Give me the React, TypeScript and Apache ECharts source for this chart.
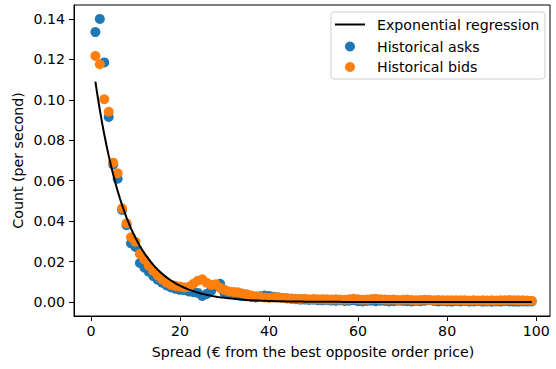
import React, { useEffect, useRef } from "react";
import * as echarts from "echarts";

// Spread values (€ from the best opposite order price)
const spreads: number[] = Array.from({ length: 99 }, (_, i) => i + 1);

// Historical asks (count per second)
const asks: number[] = [
  0.1335, 0.1400, 0.1185, 0.0915, 0.0680, 0.0610, 0.0455, 0.0380, 0.0290, 0.0272,
  0.0193, 0.0170, 0.0150, 0.0128, 0.0110, 0.0095, 0.0082, 0.0072, 0.0065, 0.0060,
  0.0058, 0.0052, 0.0048, 0.0045, 0.0030, 0.0040, 0.0055, 0.0080, 0.0090, 0.0045,
  0.0040, 0.0045, 0.0035, 0.0030, 0.0028, 0.0025, 0.0022, 0.0028, 0.0032, 0.0030,
  0.0026, 0.0024, 0.0020, 0.0018, 0.0016, 0.0014, 0.0012, 0.0012, 0.0010, 0.0011,
  0.0009, 0.0008, 0.0010, 0.0007, 0.0006, 0.0008, 0.0005, 0.0006, 0.0009, 0.0004,
  0.0003, 0.0005, 0.0007, 0.0004, 0.0006, 0.0005, 0.0003, 0.0004, 0.0006, 0.0005,
  0.0004, 0.0003, 0.0005, 0.0004, 0.0006, 0.0009, 0.0005, 0.0003, 0.0004, 0.0003,
  0.0002, 0.0004, 0.0003, 0.0005, 0.0002, 0.0003, 0.0004, 0.0002, 0.0003, 0.0001,
  0.0003, 0.0002, 0.0004, 0.0003, 0.0002, 0.0001, 0.0003, 0.0002, 0.0003,
];

// Historical bids (count per second)
const bids: number[] = [
  0.1217, 0.1176, 0.1003, 0.0941, 0.0689, 0.0637, 0.0463, 0.0389, 0.0320, 0.0298,
  0.0237, 0.0210, 0.0180, 0.0155, 0.0132, 0.0112, 0.0095, 0.0085, 0.0080, 0.0076,
  0.0072, 0.0075, 0.0090, 0.0105, 0.0112, 0.0095, 0.0085, 0.0088, 0.0070, 0.0060,
  0.0052, 0.0050, 0.0048, 0.0042, 0.0038, 0.0032, 0.0028, 0.0025, 0.0022, 0.0020,
  0.0022, 0.0024, 0.0020, 0.0018, 0.0017, 0.0016, 0.0015, 0.0016, 0.0014, 0.0015,
  0.0014, 0.0013, 0.0014, 0.0012, 0.0013, 0.0012, 0.0011, 0.0013, 0.0016, 0.0013,
  0.0011, 0.0012, 0.0015, 0.0016, 0.0013, 0.0012, 0.0011, 0.0012, 0.0010, 0.0011,
  0.0012, 0.0010, 0.0009, 0.0010, 0.0011, 0.0010, 0.0009, 0.0010, 0.0009, 0.0008,
  0.0009, 0.0008, 0.0009, 0.0008, 0.0007, 0.0008, 0.0007, 0.0008, 0.0007, 0.0008,
  0.0007, 0.0008, 0.0009, 0.0010, 0.0009, 0.0008, 0.0008, 0.0007, 0.0006,
];

// Fitted exponential regression model y = A * exp(-B * x)
const REG_A = 0.125;
const REG_B = 0.137;
const regX: number[] = Array.from({ length: 197 }, (_, i) => 1 + i * 0.5);

const xTicks: number[] = [0, 20, 40, 60, 80, 100];
const yTicks: number[] = [0, 0.02, 0.04, 0.06, 0.08, 0.1, 0.12, 0.14];

const FONT = "DejaVu Sans";
const FS = 14.2;

export default function App() {
  const ref = useRef<HTMLDivElement>(null);
  useEffect(() => {
    if (!ref.current) return;
    const chart = echarts.init(ref.current, undefined, { renderer: "svg" });
    const tickLabelStyle = { color: "#000", fontSize: FS, fontFamily: FONT };
    const font = `${FS}px "${FONT}"`;
    const option: any = {
      animation: false,
      backgroundColor: "#fff",
      grid: {
        left: 74,
        right: 6,
        top: 5,
        bottom: 53,
        show: true,
        borderColor: "#000",
        borderWidth: 1,
        backgroundColor: "#fff",
      },
      xAxis: {
        type: "value",
        min: -3.8,
        max: 103.1,
        axisLine: { show: true, onZero: false, lineStyle: { color: "#000", width: 1 } },
        splitLine: { show: false },
        axisTick: { show: true, length: 5, customValues: xTicks, lineStyle: { color: "#000", width: 1 } },
        axisLabel: { ...tickLabelStyle, margin: 8, customValues: xTicks, formatter: (v: number) => String(v) },
      },
      yAxis: {
        type: "value",
        min: -0.00693,
        max: 0.1469,
        axisLine: { show: true, onZero: false, lineStyle: { color: "#000", width: 1 } },
        splitLine: { show: false },
        axisTick: { show: true, length: 5, customValues: yTicks, lineStyle: { color: "#000", width: 1 } },
        axisLabel: { ...tickLabelStyle, margin: 9, customValues: yTicks, formatter: (v: number) => v.toFixed(2) },
      },
      series: [
        {
          name: "Historical asks",
          type: "scatter",
          symbol: "circle",
          symbolSize: 10,
          itemStyle: { color: "#1f77b4", opacity: 1 },
          data: spreads.map((x, i) => [x, asks[i]]),
          z: 2,
        },
        {
          name: "Historical bids",
          type: "scatter",
          symbol: "circle",
          symbolSize: 10,
          itemStyle: { color: "#ff7f0e", opacity: 1 },
          data: spreads.map((x, i) => [x, bids[i]]),
          z: 3,
        },
        {
          name: "Exponential regression",
          type: "line",
          showSymbol: false,
          symbol: "none",
          lineStyle: { color: "#000", width: 2 },
          data: regX.map((x) => [x, REG_A * Math.exp(-REG_B * x)]),
          z: 5,
        },
      ],
      graphic: [
        {
          type: "text",
          x: 18,
          y: 160.5,
          rotation: Math.PI / 2,
          style: {
            text: "Count (per second)",
            fill: "#000",
            font,
            textAlign: "center",
            textVerticalAlign: "middle",
          },
        },
        {
          type: "text",
          x: 313,
          y: 352,
          style: {
            text: "Spread (€ from the best opposite order price)",
            fill: "#000",
            font,
            textAlign: "center",
            textVerticalAlign: "middle",
          },
        },
        {
          type: "rect",
          shape: { x: 331, y: 12, width: 214, height: 67, r: 3 },
          style: { fill: "rgba(255,255,255,0.8)", stroke: "#d0d0d0", lineWidth: 1 },
          z: 100,
        },
        {
          type: "line",
          shape: { x1: 335, y1: 24.5, x2: 365, y2: 24.5 },
          style: { stroke: "#000", lineWidth: 2 },
          z: 101,
        },
        {
          type: "text",
          x: 377,
          y: 25,
          style: { text: "Exponential regression", fill: "#000", font, textVerticalAlign: "middle" },
          z: 101,
        },
        {
          type: "circle",
          shape: { cx: 350, cy: 46.5, r: 5 },
          style: { fill: "#1f77b4" },
          z: 101,
        },
        {
          type: "text",
          x: 377,
          y: 46.5,
          style: { text: "Historical asks", fill: "#000", font, textVerticalAlign: "middle" },
          z: 101,
        },
        {
          type: "circle",
          shape: { cx: 350, cy: 67, r: 5 },
          style: { fill: "#ff7f0e" },
          z: 101,
        },
        {
          type: "text",
          x: 377,
          y: 67,
          style: { text: "Historical bids", fill: "#000", font, textVerticalAlign: "middle" },
          z: 101,
        },
      ],
    };
    chart.setOption(option);
    return () => chart.dispose();
  }, []);
  return <div ref={ref} style={{ width: 556, height: 369, position: "absolute", left: 0, top: 0 }} />;
}
